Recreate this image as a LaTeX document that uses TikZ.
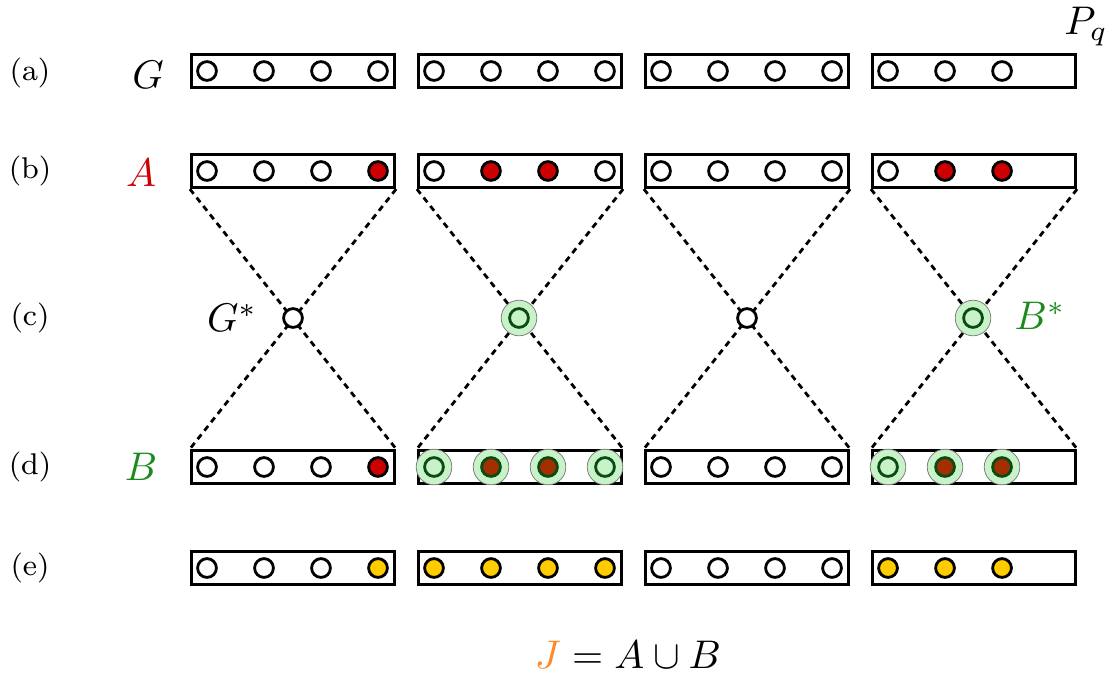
\documentclass[tikz,border=0pt]{standalone}
\usepackage{amsmath,amssymb}
\usepackage{xcolor}
\usepackage{tikz}
\usetikzlibrary{positioning,backgrounds}
\definecolor{selred}{HTML}{CC0000}
\definecolor{selbrown}{HTML}{A32E00}
\definecolor{joinyellow}{HTML}{FFCC00}
\definecolor{halofill}{HTML}{C8F2C8}
\definecolor{ringgreen}{HTML}{0B4A12}
\definecolor{bgreen}{HTML}{1A8A1A}
\definecolor{jorange}{HTML}{FF8A2A}
% one row of elements inside a part: row, y, part index, styles
\newcommand{\cells}[4]{%
  \foreach \s [count=\i from 0] in {#4}
    \node[\s] (#1#3-\i) at ({207+227*#3+57*\i},#2) {};}

\begin{document}
\begin{tikzpicture}[x=0.25pt, y=-0.25pt,
  part/.style={draw, line width=0.75pt, minimum width=50.8pt, minimum height=8.3pt, inner sep=0pt},
  el/.style={circle, draw, line width=0.7pt, fill=white, minimum size=4.7pt, inner sep=0pt},
  er/.style={el, fill=selred},
  ey/.style={el, fill=joinyellow},
  gin/.style={el, draw=ringgreen, fill=halofill},
  gout/.style={el, draw=ringgreen, fill=selbrown},
  halo/.style={circle, draw=gray, line width=0.2pt, fill=halofill, minimum size=8.9pt, inner sep=0pt},
  link/.style={dashed, line width=0.7pt, dash pattern=on 1.5pt off 1.2pt},
  rowlab/.style={font=\fontsize{7.5}{9}\selectfont},
  setlab/.style={font=\normalsize},
]
\useasboundingbox (0,0) rectangle (1119,675);
\foreach \r/\y in {a/71,b/171,d/467,e/568}
  \foreach \k in {0,...,3}
    \node[part] (\r\k) at ({293+227*\k},\y) {};
\cells{a}{71}{0}{el,el,el,el}
\cells{a}{71}{1}{el,el,el,el}
\cells{a}{71}{2}{el,el,el,el}
\cells{a}{71}{3}{el,el,el}
\cells{b}{171}{0}{el,el,el,er}
\cells{b}{171}{1}{el,er,er,el}
\cells{b}{171}{2}{el,el,el,el}
\cells{b}{171}{3}{el,er,er}
\foreach \k/\n in {1/4,3/3}
  \foreach \i in {1,...,\n}
    \node[halo] (hd\k-\i) at ({207+227*\k+57*(\i-1)},467) {};
\cells{d}{467}{0}{el,el,el,er}
\cells{d}{467}{1}{gin,gout,gout,gin}
\cells{d}{467}{2}{el,el,el,el}
\cells{d}{467}{3}{gin,gout,gout}
\cells{e}{568}{0}{el,el,el,ey}
\cells{e}{568}{1}{ey,ey,ey,ey}
\cells{e}{568}{2}{el,el,el,el}
\cells{e}{568}{3}{ey,ey,ey}
\node[halo] (hc1) at (519,318) {};
\node[halo] (hc3) at (973,318) {};
\node[el] (c0) at (293,318) {};
\node[gin] (c1) at (519,318) {};
\node[el] (c2) at (747,318) {};
\node[gin] (c3) at (973,318) {};
\begin{scope}[on background layer]
\foreach \k in {0,...,3} {
  \draw[link] (b\k.south west) -- (d\k.north east);
  \draw[link] (b\k.south east) -- (d\k.north west);
}
\end{scope}
\node[rowlab] (la) at (30,73) {(a)};
\node[rowlab] (lb) at (30,171) {(b)};
\node[rowlab] (lc) at (30,318) {(c)};
\node[rowlab] (ld) at (30,467) {(d)};
\node[rowlab] (le) at (30,568) {(e)};
\node[setlab] (gset) at (148,75) {$G$};
\node[setlab, selred] (aset) at (141,173) {$A$};
\node[setlab, bgreen] (bset) at (141,467) {$B$};
\node[setlab] (gstar) at (232,318) {$G^*$};
\node[setlab, bgreen] (bstar) at (1040,316) {$B^*$};
\node[setlab] (pq) at (1086,27) {$P_q$};
\node[setlab] (join) at (628,655) {${\color{jorange}J} = A \cup B$};
\end{tikzpicture}
\end{document}
